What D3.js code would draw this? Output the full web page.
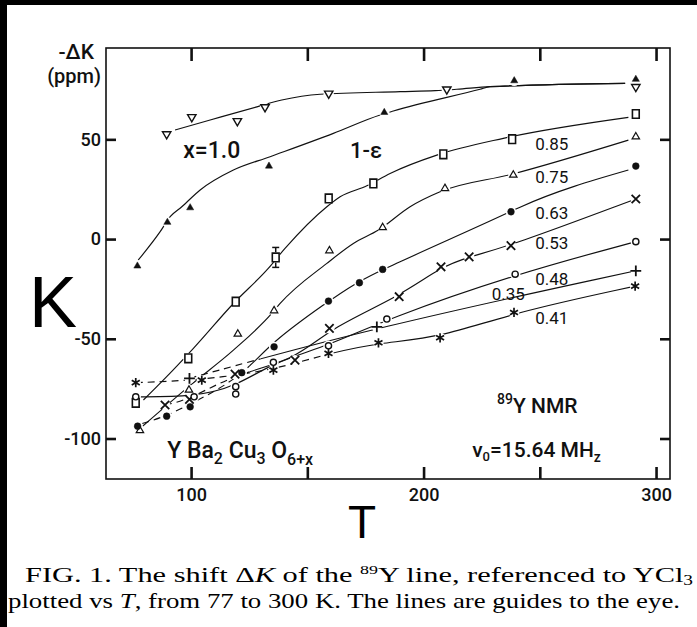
<!DOCTYPE html>
<html>
<head>
<meta charset="utf-8">
<script src="https://cdn.jsdelivr.net/npm/d3@7"></script>
<style>
  html, body { margin: 0; padding: 0; background: #fff; }
  svg { display: block; }
</style>
</head>
<body>
<svg id="chart" width="697" height="627"></svg>
<script>
// 89Y NMR shift -ΔK (ppm) of YBa2Cu3O(6+x) versus temperature T (K)
// Measured points per oxygen content: [T, -ΔK]
const x10  = [[89.5,52.2],[100.3,60.8],[119.9,58.8],[131.8,65.8],[159.2,72.6],[210,74.7],[291.3,75.9]];
const xEps = [[76.9,-13.5],[89.8,8.4],[99.6,15.7],[133.5,36.6],[183.1,63.5],[239,79.4],[291.3,80.1]];
const x85  = [[76.2,-82.1],[98.8,-59.8],[119.2,-31.4],[136.4,-9.2],[159.2,20.4],[178.4,27.9],[208.5,42.5],[238.1,50.1],[291.3,62.7]];
const x75  = [[78,-96],[99.1,-75.7],[120.1,-47.6],[135.7,-35.9],[159.5,-5.8],[182.4,5.8],[209.2,25.4],[238.6,32.1],[291.3,51.3]];
const x63  = [[77,-93.8],[89.5,-88.8],[99.6,-84.1],[121.8,-67],[135.7,-54],[159.1,-31.1],[172.4,-21.9],[182.4,-15.2],[237.6,13.7],[291.3,36.6]];
const x53  = [[88.8,-83.2],[99.3,-80.4],[118.9,-67.7],[144.7,-60.7],[159.5,-44.8],[189.5,-28.9],[207.5,-13.9],[219.6,-8.9],[237.6,-3.3],[291.3,20.1]];
const x48  = [[76.2,-79.1],[101.3,-79.1],[119.2,-74],[135.4,-61.8],[159.1,-53.5],[184.2,-40.1],[239.4,-17.6],[291.3,-1.3]];
const x35  = [[99.3,-69.8],[179.9,-44],[291.3,-15.9]];
const x41  = [[76.2,-72],[104.6,-70.7],[135.4,-65.7],[159.1,-57.3],[180.6,-52],[207.1,-49.5],[238.9,-36.8],[291,-23.6]];

// repeated runs plotted without a guide line: [T, -ΔK]
const x48Repeat = [[119.2,-77.7]];
// error bar: [T, -ΔK, ±ppm]
const errorBars = [[136.4,-9.2,5]];

// hand-drawn guides to the eye: [T, -ΔK]
const guide10  = [[93.1,54.7],[108.2,59.7],[128.3,66.3],[139,69.7],[155.5,72.6],[189.9,73.9],[205,74.4],[214.3,75.1],[228.6,76.4],[286.7,78.1]];
const guideEps = [[77.3,-10.5],[86.7,3.7],[91,11.2],[96,16.2],[103.9,24.6],[118.2,34.6],[134,41.3],[161.2,53],[181.3,62.2],[187,64.2],[224.3,75.1],[228.6,76.4],[286.7,78.1]];
const guide85  = [[79.5,-80.7],[89.5,-69],[101,-54.8],[118.2,-32.3],[133.2,-14.7],[140.4,-4.7],[158.4,16.2],[164.1,21.2],[175.6,26.7],[185.6,32.9],[205.7,42.1],[234.3,50.5],[288.1,61]];
const guide75  = [[79,-94],[100,-73],[118.2,-55.7],[134.7,-37.3],[138.3,-32.3],[158.4,-12.2],[169.8,-2.2],[180.6,4.5],[194.2,16.2],[207.1,23.7],[238,32.5],[288.1,49.6]];
const guide63  = [[79,-92.5],[89.5,-88.3],[100,-82.5],[121.8,-67],[136.1,-51.5],[156.9,-33.1],[169.8,-23.1],[180.6,-16.4],[189.9,-11.4],[235.8,12.9],[241.5,16],[288.1,34.6]];

// axis ticks
const tickT = [100,150,200,250,300];
const tickTLabels = ["100","","200","","300"];
const tickK = [-100,-50,0,50];
const tickKLabels = ["-100","-50","0","50"];

// curve labels: [text, T, -ΔK] (left edge / baseline)
const curveLabels = [["0.85",248,44.6],["0.75",248,28.1],["0.63",248,10],["0.53",248,-5],
                     ["0.48",248,-23.1],["0.35",229.3,-30.6],["0.41",248,-42.6]];

const svg = d3.select("#chart");
const W = 697, H = 627;
svg.append("rect").attr("width", W).attr("height", H).attr("fill", "#fff");

const x = d3.scaleLinear().domain([63.4, 306]).range([106, 670]);
const y = d3.scaleLinear().domain([-120.3, 95.8]).range([479, 48]);
const [x0, x1] = x.range();
const [y0, y1] = y.range();

const INK = "#111";
const plotFont = "Roboto, 'Liberation Sans', Arial, sans-serif";

// --- guide lines -------------------------------------------------------
const lineThrough = d3.line().x(d => x(d[0])).y(d => y(d[1])).curve(d3.curveMonotoneX);
const lineSmooth  = d3.line().x(d => x(d[0])).y(d => y(d[1])).curve(d3.curveBasis);

const defs = svg.append("defs");
function clipUpTo(id, t) {
  defs.append("clipPath").attr("id", id + "-lo")
    .append("rect").attr("x", 0).attr("y", 0).attr("width", x(t)).attr("height", H);
  defs.append("clipPath").attr("id", id + "-hi")
    .append("rect").attr("x", x(t)).attr("y", 0).attr("width", W - x(t)).attr("height", H);
}

const series = [
  { id: "s10",  pts: x10,  guide: guide10,  sym: "tri-down" },
  { id: "sEps", pts: xEps, guide: guideEps, sym: "tri-fill" },
  { id: "s85",  pts: x85,  guide: guide85,  sym: "square" },
  { id: "s75",  pts: x75,  guide: guide75,  sym: "tri-open" },
  { id: "s63",  pts: x63,  guide: guide63,  sym: "dot", dashTo: 125 },
  { id: "s53",  pts: x53,  sym: "x", dashTo: 125 },
  { id: "s48",  pts: x48,  sym: "circle" },
  { id: "s35",  pts: x35,  sym: "plus", dashTo: 130 },
  { id: "s41",  pts: x41,  sym: "star", dashTo: 160 }
];

const gLines = svg.append("g").attr("fill", "none").attr("stroke", INK).attr("stroke-width", 1.15);
series.forEach(s => {
  const d = s.guide ? lineThrough(s.guide) : lineSmooth(s.pts);
  if (s.dashTo) {
    clipUpTo(s.id, s.dashTo);
    gLines.append("path").attr("d", d).attr("clip-path", `url(#${s.id}-lo)`)
      .attr("stroke-dasharray", "7,5");
    gLines.append("path").attr("d", d).attr("clip-path", `url(#${s.id}-hi)`);
  } else {
    gLines.append("path").attr("d", d);
  }
});

// --- markers -----------------------------------------------------------
const allMarks = [];
series.forEach(s => s.pts.forEach(p => allMarks.push({ t: p[0], k: p[1], sym: s.sym })));
x48Repeat.forEach(p => allMarks.push({ t: p[0], k: p[1], sym: "circle" }));

// white knock-outs break the guide lines around each marker
svg.append("g").selectAll("circle").data(allMarks).join("circle")
  .attr("cx", d => x(d.t)).attr("cy", d => y(d.k)).attr("r", 5.2).attr("fill", "#fff");

const triDown = (r) => `M${-r},${-r * 0.75}L${r},${-r * 0.75}L0,${r * 0.95}Z`;
const symbolPath = {
  "tri-down": triDown(4.2),
  "tri-fill": d3.symbol(d3.symbolTriangle, 22)(),
  "square":   "M-3.4,-4.3H3.4V4.3H-3.4Z",
  "tri-open": d3.symbol(d3.symbolTriangle, 24)(),
  "dot":      d3.symbol(d3.symbolCircle, 36)(),
  "x":        d3.symbol(d3.symbolX || d3.symbolTimes, 48)(),
  "circle":   d3.symbol(d3.symbolCircle, 30)(),
  "plus":     d3.symbol(d3.symbolPlus, 40)(),
  "star":     d3.symbol(d3.symbolAsterisk, 60)()
};
const filled = { "tri-fill": true, "dot": true };
const strokeW = { "tri-down": 1.4, "square": 1.6, "tri-open": 1.2, "circle": 1.4, "x": 1.8, "plus": 1.8, "star": 1.7 };

svg.append("g").selectAll("path").data(allMarks).join("path")
  .attr("transform", d => `translate(${x(d.t)},${y(d.k)})`)
  .attr("d", d => symbolPath[d.sym])
  .attr("fill", d => filled[d.sym] ? INK : "#fff")
  .attr("stroke", INK)
  .attr("stroke-width", d => filled[d.sym] ? 0.5 : strokeW[d.sym])
  .attr("stroke-linejoin", "miter");

// error bars
const gErr = svg.append("g").attr("stroke", INK).attr("stroke-width", 1.5);
errorBars.forEach(([t, k, e]) => {
  gErr.append("line").attr("x1", x(t)).attr("x2", x(t)).attr("y1", y(k + e)).attr("y2", y(k + 2.6));
  gErr.append("line").attr("x1", x(t)).attr("x2", x(t)).attr("y1", y(k - 2.6)).attr("y2", y(k - e));
  gErr.append("line").attr("x1", x(t) - 3.5).attr("x2", x(t) + 3.5).attr("y1", y(k + e)).attr("y2", y(k + e));
  gErr.append("line").attr("x1", x(t) - 3.5).attr("x2", x(t) + 3.5).attr("y1", y(k - e)).attr("y2", y(k - e));
});

// --- frame and axes ----------------------------------------------------
svg.append("rect").attr("x", x0).attr("y", y1).attr("width", x1 - x0).attr("height", y0 - y1)
  .attr("fill", "none").attr("stroke", INK).attr("stroke-width", 1.6);

function styleAxis(g) {
  g.select(".domain").remove();
  g.selectAll(".tick line").attr("stroke", INK).attr("stroke-width", 2.6);
  g.selectAll(".tick text").attr("fill", INK).attr("font-family", plotFont)
    .attr("font-size", 18).attr("font-weight", 500);
}

svg.append("g").attr("transform", `translate(0,${y0})`)
  .call(d3.axisBottom(x).tickValues(tickT).tickSize(-12).tickPadding(9)
    .tickFormat((d, i) => tickTLabels[i]))
  .call(styleAxis);
svg.append("g").attr("transform", `translate(0,${y1})`)
  .call(d3.axisTop(x).tickValues(tickT).tickSize(-13).tickFormat(""))
  .call(styleAxis);
svg.append("g").attr("transform", `translate(${x0},0)`)
  .call(d3.axisLeft(y).tickValues(tickK).tickSize(-10).tickPadding(5)
    .tickFormat((d, i) => tickKLabels[i]))
  .call(styleAxis);
svg.append("g").attr("transform", `translate(${x1},0)`)
  .call(d3.axisRight(y).tickValues(tickK).tickSize(-10).tickFormat(""))
  .call(styleAxis);

// --- text --------------------------------------------------------------
const txt = (px, py, size, weight, anchor) => svg.append("text")
  .attr("x", px).attr("y", py).attr("font-family", plotFont)
  .attr("font-size", size).attr("font-weight", weight || 500)
  .attr("text-anchor", anchor || "start").attr("fill", INK);

// y-axis unit
txt(x0 - 12, 59, 21, 500, "end").text("-ΔK");
txt(x0 - 5, 83, 20, 500, "end").text("(ppm)");

// curve labels
curveLabels.forEach(([s, t, k]) => txt(x(t), y(k), 17, 400).text(s));
txt(x(96.6), y(40.6), 23, 500).text("x=1.0");
txt(x(168.4), y(40.6), 22, 500).text("1-ε");

// sample and experiment
const nmr = txt(x(231.6), y(-87.3), 21, 500);
nmr.append("tspan").attr("font-size", 14).attr("dy", -9).text("89");
nmr.append("tspan").attr("dy", 9).text("Y NMR");

const nu = txt(x(220.9), y(-109.3), 21, 500);
nu.append("tspan").text("ν");
nu.append("tspan").attr("font-size", 13).attr("dy", 4).text("0");
nu.append("tspan").attr("dy", -4).text("=15.64 MH");
nu.append("tspan").attr("font-size", 14).attr("dy", 5).text("z");

const comp = txt(x(89.7), y(-109.8), 23, 500);
comp.append("tspan").text("Y Ba");
comp.append("tspan").attr("font-size", 16).attr("dy", 6).text("2");
comp.append("tspan").attr("dy", -6).text(" Cu");
comp.append("tspan").attr("font-size", 16).attr("dy", 6).text("3");
comp.append("tspan").attr("dy", -6).text(" O");
comp.append("tspan").attr("font-size", 16).attr("dy", 7).text("6+x");

// large axis letters
svg.append("text").attr("x", 29).attr("y", 327).attr("font-family", "'Liberation Sans', Arial, sans-serif")
  .attr("font-size", 72).attr("fill", "#000").text("K");
svg.append("text").attr("x", 348).attr("y", 538).attr("font-family", "'Liberation Sans', Arial, sans-serif")
  .attr("font-size", 46).attr("fill", "#000").text("T");

// caption
const serif = "'Liberation Serif', 'Times New Roman', serif";
const cap1 = svg.append("text").attr("x", 25).attr("y", 582).attr("font-family", serif)
  .attr("font-size", 22).attr("fill", "#000").attr("textLength", 668).attr("lengthAdjust", "spacingAndGlyphs");
cap1.append("tspan").text("FIG. 1.  The shift Δ");
cap1.append("tspan").attr("font-style", "italic").text("K");
cap1.append("tspan").text(" of the ");
cap1.append("tspan").attr("font-size", 13).attr("dy", -8).text("89");
cap1.append("tspan").attr("dy", 8).text("Y line, referenced to YCl");
cap1.append("tspan").attr("font-size", 14).attr("dy", 3).text("3");

const cap2 = svg.append("text").attr("x", 8).attr("y", 608).attr("font-family", serif)
  .attr("font-size", 22).attr("fill", "#000").attr("textLength", 672).attr("lengthAdjust", "spacingAndGlyphs");
cap2.append("tspan").text("plotted vs ");
cap2.append("tspan").attr("font-style", "italic").text("T");
cap2.append("tspan").text(", from 77 to 300 K.  The lines are guides to the eye.");

// scanned-page edges
svg.append("rect").attr("x", 0).attr("y", 0).attr("width", W).attr("height", 5).attr("fill", "#000");
svg.append("rect").attr("x", 0).attr("y", 0).attr("width", 7).attr("height", H).attr("fill", "#000");
</script>
</body>
</html>
